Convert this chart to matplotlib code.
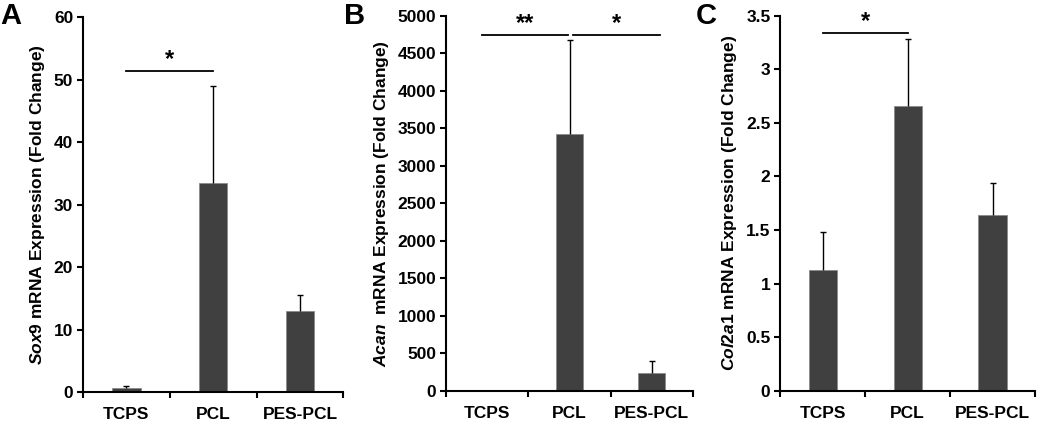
import numpy as np
import matplotlib
matplotlib.use('Agg')
import matplotlib.pyplot as plt
import matplotlib.ticker as ticker

plt.rcParams['font.family'] = 'Liberation Sans'
plt.rcParams['font.weight'] = 'bold'
plt.rcParams['mathtext.fontset'] = 'custom'
plt.rcParams['mathtext.it'] = 'Liberation Sans:italic:bold'
plt.rcParams['mathtext.rm'] = 'Liberation Sans:bold'

# ── data ───────────────────────────────────────────────────────────────────
categories = ['TCPS', 'PCL', 'PES-PCL']

sox9_mean = [0.7, 33.5, 13.0]
sox9_err = [0.2, 15.4, 2.5]

acan_mean = [1.0, 3420.0, 232.0]
acan_err = [0.0, 1260.0, 168.0]

col2a1_mean = [1.13, 2.66, 1.64]
col2a1_err = [0.35, 0.62, 0.30]

# significance brackets: (x start, x end, y, label)
sox9_sig = [(0.0, 1.0, 51.4, '*')]
acan_sig = [(-0.06, 0.98, 4745, '**'), (1.04, 2.1, 4745, '*')]
col2a1_sig = [(0.0, 1.0, 3.34, '*')]

BAR_C = '#404040'

panels = [
    dict(letter='A', mean=sox9_mean, err=sox9_err, sig=sox9_sig,
         ymax=60, step=10,
         ylabel=r'$\mathit{Sox9}$ mRNA Expression (Fold Change)',
         rect=[0.079, 0.105, 0.248, 0.856], lx=0.0),
    dict(letter='B', mean=acan_mean, err=acan_err, sig=acan_sig,
         ymax=5000, step=500,
         ylabel=r'$\mathit{Acan}$  mRNA Expression (Fold Change)',
         rect=[0.4248, 0.108, 0.2352, 0.856], lx=0.328),
    dict(letter='C', mean=col2a1_mean, err=col2a1_err, sig=col2a1_sig,
         ymax=3.5, step=0.5,
         ylabel=r'$\mathit{Col2a1}$ mRNA Expression (Fold Change)',
         rect=[0.743, 0.108, 0.2427, 0.856], lx=0.663),
]


def draw_panel(fig, p):
    ax = fig.add_axes(p['rect'])
    x = np.arange(len(categories))
    mean = np.asarray(p['mean'])
    ax.bar(x, mean, width=0.33, color=BAR_C, edgecolor='#8a8a8a',
           linewidth=0.6, zorder=2)
    _, caps, _ = ax.errorbar(x, mean, yerr=[np.zeros(len(x)), p['err']],
                             fmt='none', ecolor='black', elinewidth=1.0,
                             capsize=2, capthick=1.0, zorder=3)
    # upper error only: hide the cap sitting on the bar top
    for c in caps:
        if np.allclose(c.get_ydata(), mean):
            c.set_visible(False)

    ax.set_xlim(-0.5, 2.5)
    ax.set_ylim(0, p['ymax'])
    ax.yaxis.set_major_locator(ticker.MultipleLocator(p['step']))
    ax.yaxis.set_major_formatter(ticker.FuncFormatter(lambda v, _: f'{v:g}'))

    ax.set_xticks([-0.5, 0.5, 1.5, 2.5])
    ax.set_xticklabels([])
    ax.set_xticks(x, minor=True)
    ax.set_xticklabels(categories, minor=True)
    ax.tick_params(axis='x', which='major', direction='out', length=4, width=1.5)
    ax.tick_params(axis='x', which='minor', length=0, pad=11, labelsize=12.5)
    ax.tick_params(axis='y', direction='out', length=4, width=1.5, labelsize=12.5,
                   pad=3)

    for s in ['top', 'right']:
        ax.spines[s].set_visible(False)
    for s in ['left', 'bottom']:
        ax.spines[s].set_linewidth(1.5)

    ax.set_ylabel(p['ylabel'], fontsize=12.5, fontweight='bold', labelpad=5)

    for x0, x1, y, lab in p['sig']:
        ax.plot([x0, x1], [y, y], color='black', lw=1.3, clip_on=False)
        ax.text((x0 + x1) / 2, y, lab, ha='center', va='bottom',
                fontsize=17, fontweight='bold')

    fig.text(p['lx'], 0.995, p['letter'], ha='left', va='top',
             fontsize=21, fontweight='bold')
    return ax


fig = plt.figure(figsize=(10.5, 4.38), dpi=100)
for p in panels:
    draw_panel(fig, p)

fig.savefig('out.png', dpi=100)
